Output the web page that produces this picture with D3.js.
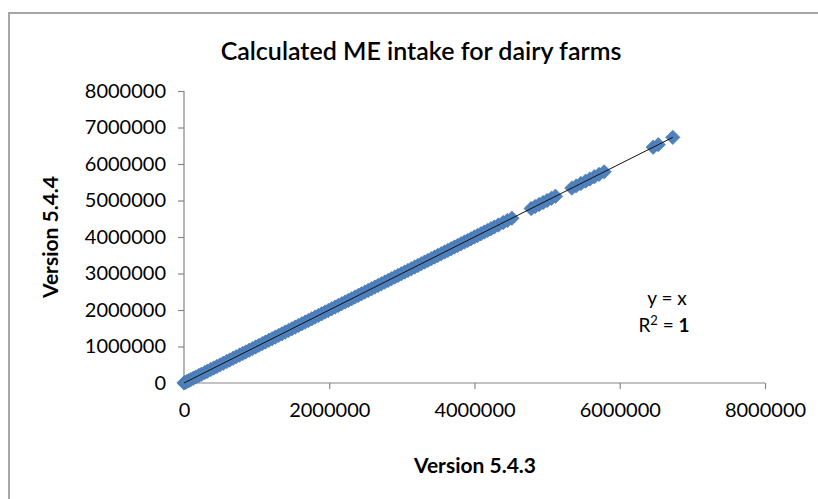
<!DOCTYPE html>
<html>
<head>
<meta charset="utf-8">
<script src="https://cdn.jsdelivr.net/npm/d3@7"></script>
<style>
  html, body { margin: 0; padding: 0; background: #fff; }
  svg { display: block; }
  text { font-family: Lato, "Open Sans", "Noto Sans", sans-serif; fill: #000; }
</style>
</head>
<body>
<svg id="chart" width="818" height="499"></svg>
<script>
// ---- data ----
const chartTitle = "Calculated ME intake for dairy farms";
const xTitle = "Version 5.4.3";
const yTitle = "Version 5.4.4";
const xTicks = [0, 2000000, 4000000, 6000000, 8000000];
const yTicks = [0, 1000000, 2000000, 3000000, 4000000, 5000000, 6000000, 7000000, 8000000];
// ME intake per farm, version 5.4.3
const v543 = [
  0, 12000, 35000, 64000, 91000, 128000, 163000, 205000, 241000, 287000,
  322000, 368000, 410000, 452000, 497000, 541000, 588000, 630000, 676000, 718000,
  765000, 809000, 851000, 897000, 942000, 986000, 1031000, 1078000, 1122000, 1169000,
  1213000, 1258000, 1304000, 1349000, 1395000, 1441000, 1486000, 1532000, 1577000, 1623000,
  1669000, 1714000, 1760000, 1806000, 1851000, 1897000, 1943000, 1988000, 2034000, 2080000,
  2125000, 2171000, 2217000, 2262000, 2308000, 2354000, 2399000, 2445000, 2491000, 2536000,
  2582000, 2628000, 2673000, 2719000, 2765000, 2810000, 2856000, 2902000, 2947000, 2993000,
  3039000, 3084000, 3130000, 3176000, 3221000, 3267000, 3313000, 3358000, 3404000, 3450000,
  3495000, 3541000, 3587000, 3632000, 3678000, 3724000, 3769000, 3815000, 3861000, 3906000,
  3952000, 3998000, 4043000, 4089000, 4135000, 4180000, 4226000, 4272000, 4330000, 4395000,
  4452000, 4515000,
  4780000, 4835000, 4890000, 4945000, 5000000, 5060000, 5115000,
  5340000, 5400000, 5465000, 5530000, 5590000, 5650000, 5715000, 5785000,
  6460000, 6530000,
  6730000
];
// ME intake per farm, version 5.4.4
const v544 = [
  0, 12000, 35000, 64000, 91000, 128000, 163000, 205000, 241000, 287000,
  322000, 368000, 410000, 452000, 497000, 541000, 588000, 630000, 676000, 718000,
  765000, 809000, 851000, 897000, 942000, 986000, 1031000, 1078000, 1122000, 1169000,
  1213000, 1258000, 1304000, 1349000, 1395000, 1441000, 1486000, 1532000, 1577000, 1623000,
  1669000, 1714000, 1760000, 1806000, 1851000, 1897000, 1943000, 1988000, 2034000, 2080000,
  2125000, 2171000, 2217000, 2262000, 2308000, 2354000, 2399000, 2445000, 2491000, 2536000,
  2582000, 2628000, 2673000, 2719000, 2765000, 2810000, 2856000, 2902000, 2947000, 2993000,
  3039000, 3084000, 3130000, 3176000, 3221000, 3267000, 3313000, 3358000, 3404000, 3450000,
  3495000, 3541000, 3587000, 3632000, 3678000, 3724000, 3769000, 3815000, 3861000, 3906000,
  3952000, 3998000, 4043000, 4089000, 4135000, 4180000, 4226000, 4272000, 4330000, 4395000,
  4452000, 4515000,
  4780000, 4835000, 4890000, 4945000, 5000000, 5060000, 5115000,
  5340000, 5400000, 5465000, 5530000, 5590000, 5650000, 5715000, 5785000,
  6460000, 6530000,
  6730000
];
const trendSlope = 1, trendIntercept = 0;
const eqLines = ["y = x", "R² = 1"];

// ---- drawing ----
const svg = d3.select("#chart");
const W = 818, H = 499;
const points = v543.map((x, i) => ({ x, y: v544[i] }));

// chart area border
svg.append("rect")
  .attr("x", 9).attr("y", 13)
  .attr("width", W + 20).attr("height", H + 20)
  .attr("fill", "#fff").attr("stroke", "#a6a6a6").attr("stroke-width", 2);

const x = d3.scaleLinear().domain([0, 8000000]).range([184, 765]);
const y = d3.scaleLinear().domain([0, 8000000]).range([383, 91]);

const axisColor = "#868686";

// x axis
const gx = svg.append("g").attr("transform", `translate(0,${y(0)})`)
  .call(d3.axisBottom(x).tickValues(xTicks).tickSize(6).tickPadding(14).tickFormat(d3.format("d")));
// y axis
const gy = svg.append("g").attr("transform", `translate(${x(0)},0)`)
  .call(d3.axisLeft(y).tickValues(yTicks).tickSize(6).tickPadding(12).tickFormat(d3.format("d")));

[gx, gy].forEach(g => {
  g.select(".domain").attr("stroke", axisColor).attr("stroke-width", 1.2);
  g.selectAll(".tick line").attr("stroke", axisColor).attr("stroke-width", 1.2);
  g.selectAll(".tick text")
    .style("font-family", "Lato, 'Open Sans', sans-serif")
    .style("font-size", "20px").attr("fill", "#000");
});
gx.select(".domain").attr("d", `M${x(0)},0H${x(8000000)}`);
gy.select(".domain").attr("d", `M0,${y(0)}V${y(8000000)}`);

// markers
const sym = d3.symbol().type(d3.symbolSquare).size(104);
svg.append("g").selectAll("path").data(points).join("path")
  .attr("d", sym)
  .attr("transform", d => `translate(${x(d.x)},${y(d.y)}) rotate(45)`)
  .attr("fill", "#4f81bd")
  .attr("stroke", "#4677b3").attr("stroke-width", 0.6);

// linear trend line from min x to max x
const xmin = d3.min(v543), xmax = d3.max(v543);
svg.append("line")
  .attr("x1", x(xmin)).attr("y1", y(trendSlope * xmin + trendIntercept))
  .attr("x2", x(xmax)).attr("y2", y(trendSlope * xmax + trendIntercept))
  .attr("stroke", "#111").attr("stroke-width", 1);

// title
svg.append("text").attr("x", 421).attr("y", 60)
  .attr("text-anchor", "middle")
  .style("font-size", "25px").style("font-weight", "600")
  .text(chartTitle);

// axis titles
svg.append("text").attr("x", 475).attr("y", 473)
  .attr("text-anchor", "middle")
  .style("font-size", "21px").style("font-weight", "bold")
  .text(xTitle);

svg.append("text")
  .attr("transform", "translate(58,237) rotate(-90)")
  .attr("text-anchor", "middle")
  .style("font-size", "21px").style("font-weight", "bold")
  .text(yTitle);

// trendline equation
const eq = svg.append("text").attr("text-anchor", "middle").style("font-size", "19px");
eq.append("tspan").attr("x", 667).attr("y", 305).text(eqLines[0]);
const r2 = eq.append("tspan").attr("x", 664).attr("y", 332);
r2.append("tspan").text("R");
r2.append("tspan").attr("dy", -7).style("font-size", "13px").text("2");
r2.append("tspan").attr("dy", 7).text(" = ");
r2.append("tspan").style("font-weight", "bold").text("1");
</script>
</body>
</html>
